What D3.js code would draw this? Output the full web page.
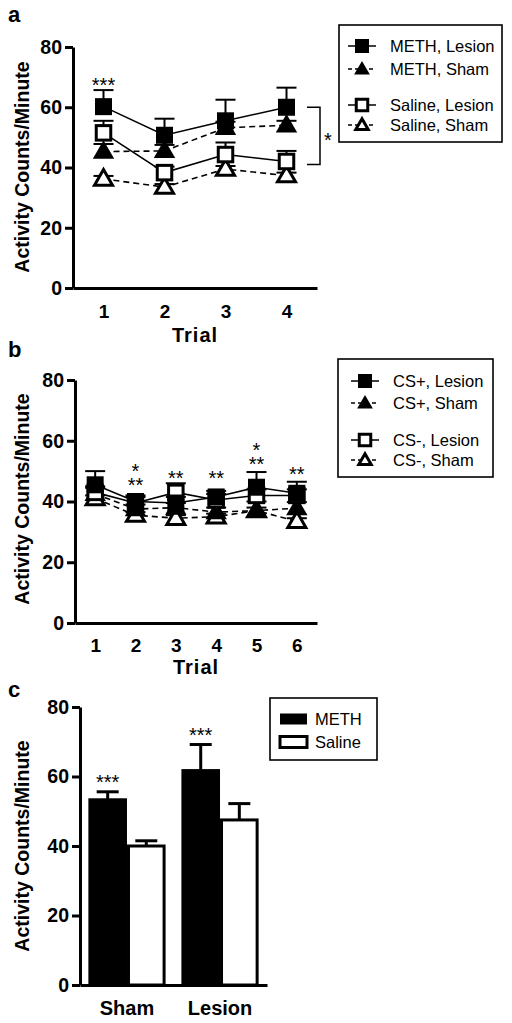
<!DOCTYPE html>
<html>
<head>
<meta charset="utf-8">
<script src="https://cdn.jsdelivr.net/npm/d3@7"></script>
<style>
html,body{margin:0;padding:0;background:#fff;}
svg{display:block;}
text{font-family:Arial,"Liberation Sans",sans-serif;fill:#000;}
</style>
</head>
<body>
<svg id="chart" width="512" height="1023"></svg>
<script>
// ---------- Panel a data ----------
const trialsA = [1, 2, 3, 4];
const methLesionA = [60.2, 50.7, 55.5, 60.0];
const methLesionErrA = [5.5, 5.5, 7.0, 6.5];
const methShamA = [45.3, 45.5, 53.2, 54.0];
const methShamErrA = [2.5, 2.0, 2.0, 1.5];
const salineLesionA = [51.5, 38.3, 44.3, 42.0];
const salineLesionErrA = [4.0, 2.0, 4.0, 3.5];
const salineShamA = [36.2, 33.5, 39.5, 37.3];
const salineShamErrA = [1.0, 1.0, 1.0, 1.0];
const legendA = ["METH, Lesion", "METH, Sham", "Saline, Lesion", "Saline, Sham"];
const starsA = ["***", "", "", ""];
const starLevelA = [69, null, null, null];

// ---------- Panel b data ----------
const trialsB = [1, 2, 3, 4, 5, 6];
const csPlusLesionB = [45.5, 40.0, 39.5, 41.5, 44.7, 42.7];
const csPlusLesionErrB = [4.5, 2.0, 2.0, 2.0, 5.0, 3.8];
const csMinusLesionB = [43.0, 39.5, 43.0, 40.5, 42.0, 42.0];
const csMinusLesionErrB = [2.0, 2.0, 3.0, 2.0, 2.0, 2.0];
const csPlusShamB = [42.5, 37.5, 38.0, 36.5, 37.0, 37.8];
const csPlusShamErrB = [2.0, 1.5, 1.5, 1.5, 3.0, 2.0];
const csMinusShamB = [41.0, 35.5, 34.5, 35.0, 37.0, 33.5];
const csMinusShamErrB = [1.0, 1.0, 1.0, 1.0, 1.0, 1.0];
const legendB = ["CS+, Lesion", "CS+, Sham", "CS-, Lesion", "CS-, Sham"];
const starsTopB = ["", "*", "", "", "*", ""];
const starsLowB = ["", "**", "**", "**", "**", "**"];
const starLevelB = [null, 47, 49.4, 49.4, 54, 50.7];

// ---------- Panel c data ----------
const groupsC = ["Sham", "Lesion"];
const methC = [53.3, 61.7];
const methErrC = [2.3, 7.5];
const salineC = [40.0, 47.5];
const salineErrC = [1.5, 4.7];
const legendC = ["METH", "Saline"];
const starsC = ["***", "***"];

const yTicks = [0, 20, 40, 60, 80];

const svg = d3.select("#chart");

function yAxis(g, y, x0) {
  const ax = g.append("g").attr("transform", `translate(${x0},0)`)
    .call(d3.axisLeft(y).tickValues(yTicks).tickSize(8).tickSizeOuter(0).tickPadding(3));
  ax.select(".domain").attr("stroke-width", 3);
  ax.selectAll(".tick line").attr("stroke-width", 3);
  ax.selectAll(".tick text").attr("font-size", 19.5).attr("font-weight", "bold")
    .attr("font-family", "Arial, 'Liberation Sans', sans-serif");
  return ax;
}
function xAxis(g, x, y0, pad, tickVals, fs) {
  const a = d3.axisBottom(x).tickSize(0).tickSizeOuter(0).tickPadding(pad);
  if (tickVals) a.tickValues(tickVals).tickFormat(d3.format("d"));
  const ax = g.append("g").attr("transform", `translate(0,${y0})`).call(a);
  ax.select(".domain").attr("stroke-width", 3);
  ax.selectAll(".tick text").attr("font-size", fs).attr("font-weight", "bold")
    .attr("font-family", "Arial, 'Liberation Sans', sans-serif");
  return ax;
}
function yTitle(g, cx, cy) {
  g.append("text").attr("transform", `translate(${cx},${cy}) rotate(-90)`)
    .attr("text-anchor", "middle").attr("dy", "0.35em")
    .attr("font-size", 19.5).attr("font-weight", "bold")
    .text("Activity Counts/Minute");
}
function xTitle(g, cx, cy) {
  g.append("text").attr("x", cx).attr("y", cy).attr("dy", "0.36em").attr("text-anchor", "middle")
    .attr("font-size", 20).attr("font-weight", "bold").attr("letter-spacing", 1).text("Trial");
}
function marker(g, type, cx, cy, s) {
  if (type === "fsq" || type === "osq") {
    const w = type === "fsq" ? s : s - 2.5;
    g.append("rect").attr("x", cx - w / 2).attr("y", cy - w / 2).attr("width", w).attr("height", w)
      .attr("fill", type === "fsq" ? "#000" : "#fff").attr("stroke", "#000")
      .attr("stroke-width", type === "fsq" ? 0 : 3);
  } else {
    const area = type === "ftri" ? s * s * 0.55 : (s - 3) * (s - 3) * 0.55;
    g.append("path").attr("d", d3.symbol(d3.symbolTriangle, area)())
      .attr("transform", `translate(${cx},${cy + 1})`)
      .attr("fill", type === "ftri" ? "#000" : "#fff").attr("stroke", "#000")
      .attr("stroke-width", type === "ftri" ? 0 : 3).attr("stroke-linejoin", "miter");
  }
}
function lineSeries(g, x, y, xs, vals, errs, dashed) {
  const line = d3.line().x((d, i) => x(xs[i])).y(d => y(d));
  g.append("path").datum(vals).attr("d", line).attr("fill", "none").attr("stroke", "#000")
    .attr("stroke-width", 1.6).attr("stroke-dasharray", dashed ? "6,4" : null);
  vals.forEach((v, i) => {
    const cx = x(xs[i]);
    g.append("line").attr("x1", cx).attr("x2", cx).attr("y1", y(v)).attr("y2", y(v + errs[i]))
      .attr("stroke", "#000").attr("stroke-width", 2);
    g.append("line").attr("x1", cx - 10).attr("x2", cx + 10).attr("y1", y(v + errs[i])).attr("y2", y(v + errs[i]))
      .attr("stroke", "#000").attr("stroke-width", 2);
  });
}
function markers(g, x, y, xs, vals, type, msize) {
  vals.forEach((v, i) => marker(g, type, x(xs[i]), y(v), msize));
}
function legendLines(g, box, entries, types, ys, sx, tx) {
  g.append("rect").attr("x", box[0]).attr("y", box[1]).attr("width", box[2]).attr("height", box[3])
    .attr("fill", "#fff").attr("stroke", "#000").attr("stroke-width", 1.6);
  entries.forEach((t, i) => {
    const dashed = types[i].indexOf("tri") >= 0;
    g.append("line").attr("x1", sx - 14).attr("x2", sx + 14).attr("y1", ys[i]).attr("y2", ys[i])
      .attr("stroke", "#000").attr("stroke-width", 1.5).attr("stroke-dasharray", dashed ? "4,3" : null);
    marker(g, types[i], sx, ys[i], 14);
    g.append("text").attr("x", tx).attr("y", ys[i]).attr("dy", "0.36em")
      .attr("font-size", 16.5).text(t);
  });
}
// star text whose glyph centre sits at cy
function stars(g, txt, cx, cy, fs) {
  return g.append("text").attr("x", cx).attr("y", cy + fs * 0.58).attr("text-anchor", "middle")
    .attr("font-size", fs).text(txt);
}

// ================= Panel a =================
{
  const g = svg.append("g");
  const x = d3.scaleLinear().domain([0.5, 4.5]).range([73, 317]);
  const y = d3.scaleLinear().domain([0, 80]).range([288, 47]);
  g.append("text").attr("x", 8).attr("y", 22).attr("font-size", 22).attr("font-weight", "bold").text("a");
  lineSeries(g, x, y, trialsA, salineShamA, salineShamErrA, true);
  lineSeries(g, x, y, trialsA, salineLesionA, salineLesionErrA, false);
  lineSeries(g, x, y, trialsA, methShamA, methShamErrA, true);
  lineSeries(g, x, y, trialsA, methLesionA, methLesionErrA, false);
  markers(g, x, y, trialsA, salineShamA, "otri", 19);
  markers(g, x, y, trialsA, salineLesionA, "osq", 17);
  markers(g, x, y, trialsA, methShamA, "ftri", 19);
  markers(g, x, y, trialsA, methLesionA, "fsq", 17);
  yAxis(g, y, 73);
  xAxis(g, x, 288, 17, trialsA, 19);
  yTitle(g, 22, 167);
  xTitle(g, 195, 335);
  starsA.forEach((s, i) => { if (s) stars(g, s, x(trialsA[i]), y(starLevelA[i]), 20); });
  // bracket
  const bx = 320;
  g.append("path").attr("d", `M${bx - 13},${y(60)}H${bx}V${y(41)}H${bx - 13}`)
    .attr("fill", "none").attr("stroke", "#000").attr("stroke-width", 1.5);
  stars(g, "*", 328, y(50.5), 20);
  legendLines(g, [339, 25, 163, 117], legendA, ["fsq", "ftri", "osq", "otri"], [46, 69, 105, 125], 362, 390);
}

// ================= Panel b =================
{
  const g = svg.append("g");
  const x = d3.scaleLinear().domain([0.5, 6.5]).range([75, 317]);
  const y = d3.scaleLinear().domain([0, 80]).range([623, 380]);
  g.append("text").attr("x", 8).attr("y", 357).attr("font-size", 22).attr("font-weight", "bold").text("b");
  lineSeries(g, x, y, trialsB, csMinusShamB, csMinusShamErrB, true);
  lineSeries(g, x, y, trialsB, csPlusShamB, csPlusShamErrB, true);
  lineSeries(g, x, y, trialsB, csMinusLesionB, csMinusLesionErrB, false);
  lineSeries(g, x, y, trialsB, csPlusLesionB, csPlusLesionErrB, false);
  markers(g, x, y, trialsB, csMinusShamB, "otri", 19);
  markers(g, x, y, trialsB, csPlusShamB, "ftri", 19);
  markers(g, x, y, trialsB, csMinusLesionB, "osq", 17);
  markers(g, x, y, trialsB, csPlusLesionB, "fsq", 17);
  yAxis(g, y, 75);
  xAxis(g, x, 623, 15.5, trialsB, 19);
  yTitle(g, 22, 499);
  xTitle(g, 196, 667);
  trialsB.forEach((t, i) => {
    if (!starsLowB[i]) return;
    const fs = 20, cx = x(t), cy = y(starLevelB[i]);
    const txt = g.append("text").attr("text-anchor", "middle").attr("font-size", fs);
    if (starsTopB[i]) {
      txt.append("tspan").attr("x", cx).attr("y", cy - 14 + fs * 0.58).text(starsTopB[i]);
      txt.append("tspan").attr("x", cx).attr("y", cy + fs * 0.58).text(starsLowB[i]);
    } else {
      txt.append("tspan").attr("x", cx).attr("y", cy + fs * 0.58).text(starsLowB[i]);
    }
  });
  legendLines(g, [338, 359, 155, 118], legendB, ["fsq", "ftri", "osq", "otri"], [381, 403, 440, 460], 365, 393);
}

// ================= Panel c =================
{
  const g = svg.append("g");
  const x0 = d3.scaleBand().domain(groupsC).range([80, 267]).paddingInner(0.17).paddingOuter(0.09);
  const x1 = d3.scaleBand().domain(["meth", "saline"]).range([0, x0.bandwidth()]);
  const y = d3.scaleLinear().domain([0, 80]).range([985, 707]);
  g.append("text").attr("x", 8).attr("y", 697).attr("font-size", 22).attr("font-weight", "bold").text("c");
  groupsC.forEach((grp, i) => {
    [["meth", methC, methErrC], ["saline", salineC, salineErrC]].forEach(([k, vals, errs]) => {
      const bx = x0(grp) + x1(k), bw = x1.bandwidth();
      const cx = bx + bw / 2;
      g.append("line").attr("x1", cx).attr("x2", cx).attr("y1", y(vals[i])).attr("y2", y(vals[i] + errs[i]))
        .attr("stroke", "#000").attr("stroke-width", 3);
      g.append("line").attr("x1", cx - 11).attr("x2", cx + 11).attr("y1", y(vals[i] + errs[i])).attr("y2", y(vals[i] + errs[i]))
        .attr("stroke", "#000").attr("stroke-width", 3);
      g.append("rect").attr("x", bx + 1.5).attr("y", y(vals[i]))
        .attr("width", bw - 3).attr("height", y(0) - y(vals[i]))
        .attr("fill", k === "meth" ? "#000" : "#fff").attr("stroke", "#000").attr("stroke-width", 3);
    });
    stars(g, starsC[i], x0(grp) + x1("meth") + x1.bandwidth() / 2, y(methC[i] + methErrC[i]) - 14, 20);
  });
  yAxis(g, y, 80);
  xAxis(g, x0, 985, 15.5, null, 20);
  yTitle(g, 22, 846);
  // legend
  g.append("rect").attr("x", 270).attr("y", 698).attr("width", 107).attr("height", 62)
    .attr("fill", "#fff").attr("stroke", "#000").attr("stroke-width", 1.6);
  legendC.forEach((t, i) => {
    const cy = [719, 742][i];
    g.append("rect").attr("x", 280).attr("y", cy - 5.5).attr("width", 27).attr("height", 11)
      .attr("fill", i === 0 ? "#000" : "#fff").attr("stroke", "#000").attr("stroke-width", i === 0 ? 0 : 3);
    g.append("text").attr("x", 315).attr("y", cy).attr("dy", "0.36em").attr("font-size", 16.5).text(t);
  });
}
</script>
</body>
</html>
